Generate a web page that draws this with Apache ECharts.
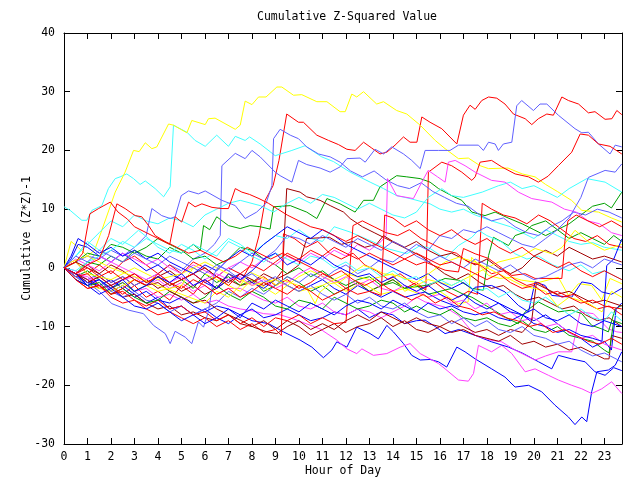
<!DOCTYPE html>
<html><head><meta charset="utf-8">
<script src="https://cdn.jsdelivr.net/npm/echarts@6/dist/echarts.min.js"></script>
<style>html,body{margin:0;padding:0;background:#fff}#c{width:640px;height:480px}</style>
</head><body><div id="c"></div>
<script>
// Tick labels
const xTickLabels = ['0','1','2','3','4','5','6','7','8','9','10','11','12','13','14','15','16','17','18','19','20','21','22','23'];
const yTickLabels = ['-30','-20','-10','0','10','20','30','40'];

// Series: [hour, cumulative value]
const Y1 = [[0,0],[0.3,4.5],[0.6,3.5],[1,2],[1.3,3],[1.61,6.4],[2.18,12.9],[2.6,16.3],[2.96,20],[3.2,19.8],[3.46,21.3],[3.74,20.3],[3.95,20.6],[4.45,24.5],[4.66,24.3],[5.23,23],[5.44,25.1],[6.01,24.4],[6.15,25.4],[6.43,25.5],[7.29,23.6],[7.5,24.3],[7.71,28.4],[8,27.8],[8.28,29.1],[8.6,29.1],[9.06,30.8],[9.27,30.8],[9.77,29.4],[10.12,29.5],[10.76,28.3],[11.19,28.3],[11.75,26.6],[11.97,26.6],[12.25,29.6],[12.46,29.1],[12.75,30],[13.31,27.9],[13.6,28.3],[14.16,26.8],[14.59,26.2],[15.16,24.3],[15.8,21.7],[16.22,20.3],[16.79,18.6],[17.21,18.7],[17.71,17.4],[18.07,16.9],[18.9,17],[19.5,16],[20.05,15.5],[20.5,14.2],[21,13],[21.6,11.5],[22.04,9.8],[22.75,9.5],[23.3,8.5],[23.74,7.8]];
const Y2 = [[0,0],[0.5,-1.5],[1,-3],[2,-4],[3,-2],[4,-4],[5,-3],[5.5,0],[6.5,-2],[7.5,-4],[8,-2],[9,-4.5],[10,-1.5],[10.5,-0.5],[11.3,-2],[12,-4],[12.7,-2.5],[13.5,-4.5],[14.5,-3.5],[15.5,-5],[16,-4],[16.79,-6.1],[17.2,-5.8],[17.35,1.8],[18.07,-1.3],[18.56,-1.8],[19.06,-1.6],[19.48,-2.1],[20.2,-2.5],[21.04,-1.6],[21.47,-4.7],[21.9,-2.7],[22.46,-3],[22.89,-5.5],[23.24,-1.8],[23.74,-2.7]];
const Y3 = [[0,0],[0.5,1],[1,-1],[2,-2],[3,0],[4,-2],[5,-1],[6,1],[7,-1],[8,-3],[9,-2],[10,-4],[11,-3],[12,-1],[13,-2],[14,-1],[14.5,-4],[15.5,-2],[16.5,-3],[17.5,-1],[18.5,1],[19.5,2],[20.05,3.3],[20.76,2.4],[21.2,3.5],[21.75,6.4],[22.3,4.5],[23,3],[23.74,4]];
const Y4 = [[0,0],[0.3,1],[1,2],[1.5,1],[2,0],[3,-1.5],[4,-3],[5,-4.5],[6,-6],[6.5,-4],[7,-5],[7.5,-3],[7.9,-0.7],[8.85,-2.4],[9.06,-3],[9.34,-2.1],[10.33,-3.5],[10.69,-6.1],[10.9,-4.1],[11.33,-2.7],[11.75,-2.4],[12.32,-0.7],[12.75,0.4],[13.17,-0.1],[13.6,-1],[14.16,-1.3],[15,-2.5],[16.22,1],[16.8,1.8],[17.5,1],[18.5,-1],[19.5,-3],[20.5,-4],[21,-6.5],[21.5,-5],[22.3,-6],[22.9,-7.5],[23.3,-4],[23.74,-5]];

const C1 = [[0,10.4],[0.26,9.8],[0.76,8.1],[0.97,8.1],[1.19,9.8],[1.61,10.6],[1.89,13.5],[2.18,15.2],[2.39,15.5],[2.67,16],[2.96,15.2],[3.24,14.2],[3.46,14.8],[3.88,13.5],[4.24,12.1],[4.52,13.8],[4.66,24.3],[4.8,24],[5.23,23.1],[5.58,21.7],[6.01,20.7],[6.5,22.6],[7,20.7],[7.29,22.4],[7.71,21.7],[7.9,22.3],[8.35,21.1],[8.99,19.1],[9.7,20],[10.26,20.8],[10.55,20],[10.97,18.9],[11.47,18.1],[12.18,16.3],[13.03,14.6],[13.6,13.5],[14.16,12.3],[14.73,11.8],[15.58,10.9],[16,10],[16.5,9.5],[17,10],[17.5,9],[18.2,8],[19,7],[19.5,6],[20,5],[20.5,6.5],[21,5.5],[21.5,4.5],[22,4],[22.5,4.3],[23,3.5],[23.74,3]];
const C2 = [[0,0],[0.5,2],[1,4],[1.5,6],[2,8],[2.5,7],[3,9],[3.5,8],[4,7.5],[4.5,8.5],[5,8],[5.5,7],[6,9],[6.5,10],[7,11],[7.5,11.5],[8.35,10.6],[8.92,9.5],[9.5,11],[10,12],[10.5,11],[11,12.5],[11.5,12],[12,11],[12.5,10],[13,11],[13.5,10],[14,9],[14.5,8.5],[15,9.5],[15.5,12],[16.08,13.5],[16.5,12.3],[17,12],[17.8,12.9],[18.5,14],[19,14.6],[19.5,13.5],[20,14],[20.5,13],[21,12],[21.5,13.5],[22.25,15.2],[23.03,14.6],[23.74,12.9]];
const C3 = [[0,0],[0.5,2],[1,4.5],[1.5,3],[2,5],[2.5,4],[3.17,6.4],[3.6,5],[4,3.5],[4.5,2.5],[5,4],[5.5,3],[6,1.5],[6.5,3],[7,5],[7.5,4],[8,2.5],[8.5,4],[9,5.5],[9.5,5],[10,6.5],[10.5,5],[11,4.5],[11.5,7],[12.18,6.1],[13.17,4.4],[13.74,3.3],[14.59,2.4],[15.16,3.8],[15.58,3.3],[16.22,1.6],[16.79,3.8],[17.36,5.2],[17.64,6.4],[18,5.5],[18.63,4.4],[19.2,2.4],[19.7,1.5],[20.2,2],[20.8,0.5],[21.5,-0.5],[22,0.5],[22.5,-1],[23,-0.5],[23.74,-2]];
const C4 = [[0,0],[0.5,-0.5],[1,1],[1.5,2],[2,3],[2.5,4.5],[3,3.5],[3.5,5],[4,4],[4.5,3],[5,2.5],[5.5,4],[6,3],[6.5,2],[7,4.5],[7.5,3.5],[8,2],[8.5,1],[9,2.5],[9.5,1.5],[10,0.5],[10.5,2],[11,1.5],[11.5,0],[12,1],[12.5,-0.5],[13,0],[13.5,-1.5],[14,-0.5],[14.5,-2],[15,-1.5],[15.5,-3],[16,-2],[16.5,-3],[17,-2],[17.5,-4],[18,-3.5],[18.5,-5],[19,-4],[19.5,-5.5],[20,-6],[20.5,-5],[21,-6.5],[21.5,-8],[22,-7],[22.5,-8.5],[23,-9],[23.3,-7.5],[23.74,-9]];

const R1 = [[0,0],[0.5,-1],[1,-2.5],[1.5,-1.5],[2,-3],[2.5,-4.5],[3,-3],[3.5,-5],[4,-4],[4.5,-5.5],[5,-3],[5.5,-4.5],[6,-2],[6.5,-3.5],[7,-1],[7.5,-2.5],[8,1],[8.3,5.5],[8.56,11.5],[8.9,14],[9.15,18.3],[9.48,26.2],[9.98,24.8],[10.19,24.8],[10.76,22.6],[11.26,21.7],[11.68,21],[12.04,20.2],[12.39,20],[12.75,21.4],[13.1,20.4],[13.45,19.4],[13.74,19.7],[14.09,20.9],[14.45,22.3],[14.73,21.4],[15.02,21.4],[15.23,25.7],[15.58,24.8],[16.08,23.7],[16.72,21.1],[17,26],[17.28,27.7],[17.5,27],[17.78,28.5],[18.07,29.1],[18.42,28.9],[18.77,27.9],[19.13,26.2],[19.63,25.4],[19.91,24.4],[20.19,25.4],[20.55,26.2],[20.83,26],[21.19,29.1],[21.47,28.5],[21.9,27.9],[22.32,26.4],[22.6,26.6],[23.03,25.3],[23.32,25.4],[23.53,26.8],[23.74,26.1]];
const R2 = [[0,0],[0.5,1],[1,-1],[1.5,0.5],[2,-1],[2.5,1],[3,2],[3.5,0.5],[4,-1],[4.5,0.5],[5,-1],[5.5,1],[6,0],[6.5,-1.5],[7,0],[7.5,-1],[8,-2.5],[8.5,-1.5],[9,-3],[9.5,-2],[10,-3.5],[10.5,-2.5],[11,-1],[11.5,-2],[12,-3.5],[12.5,-2.5],[13,-4],[13.5,-3],[14,-2],[14.5,-3.5],[15,-2.5],[15.4,-3.8],[15.51,16.3],[16.08,18],[16.5,17.4],[16.93,16.3],[17.36,14.9],[17.5,15.5],[17.71,18],[18.2,18.3],[18.63,17.2],[19.2,16],[19.77,15.5],[20.19,14.6],[20.6,15.6],[21.04,17.4],[21.61,19.7],[21.97,22.8],[22.32,22.6],[22.75,21.1],[23.24,20.7],[23.74,19.4]];
const R3 = [[0,0],[0.5,-2],[1,-3.5],[1.5,-3],[2,-5],[2.5,-6],[3,-5.5],[3.5,-7],[4,-8],[4.5,-7.5],[5,-8.5],[5.5,-9.5],[6,-8.5],[6.5,-10],[7,-9],[7.5,-10.5],[8,-9.5],[8.5,-11],[9,-10.5],[9.25,-11.5],[9.34,5.8],[9.8,5],[10.3,3.5],[10.8,4.5],[11.3,2.5],[11.8,1.5],[12.3,2.5],[12.8,0.5],[13.3,-0.5],[13.8,-2],[14.3,-1],[14.8,-2.5],[15.3,-3.5],[15.8,-2.5],[16.3,-4],[16.8,-5],[17.2,-4],[17.6,-4.5],[17.8,11],[18.2,10],[18.7,9],[19.2,8.5],[19.7,7.5],[20.2,9],[20.7,8],[21.2,6.5],[21.7,5],[22.2,4.5],[22.7,5.5],[23.2,4],[23.74,3.5]];
const R4 = [[0,0],[0.5,-1.5],[1,-1],[1.5,-3],[2,-4.5],[2.5,-4],[3,-5.5],[3.5,-6.5],[4,-5.5],[4.5,-7],[5,-6.5],[5.5,-8],[6,-7.5],[6.5,-9],[7,-8],[7.5,-9.5],[8,-8.5],[8.5,-10],[9,-8.5],[9.5,-9],[10,-8],[10.5,-9.5],[11,-8.5],[11.5,-9.5],[12,-9.3],[12.3,7.2],[12.7,8],[13.2,7],[13.7,6],[14.2,5.5],[14.7,6.5],[15.2,5],[15.7,4],[16.2,3],[16.7,2.5],[17.2,1],[17.7,0.5],[18.2,-1],[18.7,-0.5],[19.2,-2],[19.7,-3],[20.2,-2.5],[20.7,-4],[21.2,-5],[21.7,-4.5],[22.2,-6],[22.7,-7],[23.2,-6.5],[23.74,-8]];
const R5 = [[0,0],[0.5,-1],[1,0],[1.5,-1.5],[2,-0.5],[2.5,-2],[3,-1],[3.5,-2.5],[4,-1.5],[4.5,-3],[5,-2],[5.5,-1],[6,-2.5],[6.5,-1.5],[7,-3],[7.5,-1],[8,0.5],[8.5,-0.5],[9,1],[9.5,2.5],[10,1.5],[10.5,3],[11,2],[11.5,3.5],[12,2.5],[12.5,1.5],[13,2.5],[13.5,1.5],[14,0.5],[14.5,1.5],[15,0.5],[15.37,1],[16.22,-0.4],[16.79,-0.7],[17,3.3],[17.5,2.4],[18.07,1.6],[19.06,-1.3],[19.63,-1],[20.05,-1.8],[21.19,-1.8],[21.33,5],[21.45,8],[21.8,9],[22.3,8],[22.8,7],[23.3,8],[23.74,7]];
const R6 = [[0,0],[0.5,-2],[1,-3.5],[1.5,-3],[2,-4.5],[2.5,-3.5],[3,-2],[3.5,-3],[4,-1],[4.5,-2.5],[5,-3.5],[5.5,-2],[6,-3],[6.5,-4.5],[7,-3.5],[7.5,-5],[8,-4],[8.5,-2.5],[9,-3.5],[9.5,-4.5],[10,-3],[10.5,-4],[11,-5.5],[11.5,-4.5],[12,-3.5],[12.5,-4.5],[13,-4],[13.5,-4.7],[13.65,9],[14,8.5],[14.5,7],[15,8],[15.5,6.5],[16,5.5],[16.5,6.5],[17,5],[17.5,4],[18,5],[18.5,3.5],[19,2.5],[19.5,3.5],[20,2],[20.5,1],[21,0],[21.5,1],[22,-0.5],[22.5,-1.5],[23,-0.5],[23.74,-2]];
const R7 = [[0,0],[0.5,1],[0.8,2.5],[1.1,9.2],[1.47,10.1],[1.97,11.2],[2.3,9.5],[2.7,8.3],[3,7],[3.5,6],[4,5],[4.5,4],[4.73,8.7],[5.01,7.8],[5.3,11.2],[5.58,10.4],[5.87,10.9],[6.3,10.3],[6.72,10.1],[7,10.1],[7.29,13.5],[7.57,12.9],[7.9,12.5],[8.3,11.8],[8.7,11],[9.1,10],[9.5,9],[10,8],[10.5,7],[11,6.5],[11.5,5.5],[12,4.5],[12.5,5.5],[13,4.5],[13.5,3.5],[14,2.5],[14.5,1.5],[15,2.5],[15.5,1.5],[16,0.5],[16.5,1],[17,0],[17.5,-1],[18,-2],[18.5,-1],[19,-2.5],[19.5,-3.5],[20,-3],[20.5,-4.5],[21,-4],[21.5,-5],[22,-6],[22.5,-5.5],[23,-6.5],[23.74,-7]];
const R8 = [[0,0],[0.5,-1],[1,0.5],[1.5,1.5],[1.9,5.5],[2.25,10.9],[2.6,10.1],[3.03,8.9],[3.31,8.7],[3.6,7.2],[3.88,5.5],[4.3,4.5],[4.8,3.5],[5.3,2.5],[5.8,3],[6.3,2],[6.8,1],[7.3,2],[7.8,3.5],[8.3,2.5],[8.8,1.5],[9.3,2.5],[9.8,1.5],[10.3,0.5],[10.8,-0.5],[11.3,-1.5],[11.8,-0.5],[12.3,-2],[12.8,-3],[13.3,-2],[13.8,-3.5],[14.3,-4.5],[14.8,-5.5],[15.3,-4.5],[15.8,-6],[16.3,-5],[16.8,-6.5],[17.3,-7],[17.8,-8],[18.3,-7.5],[18.8,-8.5],[19.3,-9],[19.8,-10],[20.3,-9.5],[20.8,-11],[21.3,-10.5],[21.8,-11.5],[22.3,-12.5],[22.8,-13],[23.3,-12],[23.74,-13]];

const D1 = [[0,0],[0.5,-1],[1,0.5],[1.5,-1],[2,-2.5],[2.5,-1.5],[3,-3],[3.5,-2],[4,-3.5],[4.5,-2.5],[5,-4],[5.5,-3],[6,-4.5],[6.5,-3.5],[7,-2],[7.5,-3],[8,-2.5],[8.5,-1],[9,-2],[9.3,-0.5],[9.48,13.5],[10.05,12.9],[10.33,12.1],[10.9,11.5],[11.33,10.6],[11.9,9.5],[12.18,8.4],[12.7,7],[13.2,6],[13.7,5],[14.2,4],[14.7,3],[15.2,2],[15.7,0.5],[16.2,-1],[16.7,-2],[17.2,-1],[17.7,-2.5],[18.2,-3.5],[18.7,-3],[19.2,-4.5],[19.7,-5.5],[20.2,-5],[20.7,-6],[21.2,-7],[21.7,-6.5],[22.2,-8],[22.7,-9],[23.2,-8.5],[23.74,-10]];
const D2 = [[0,0],[0.5,-1],[1,-2],[1.5,-3.5],[2,-3],[2.5,-5],[3,-4.5],[3.5,-6],[4,-7],[4.5,-6.5],[5,-8],[5.5,-7.5],[6,-8.5],[6.5,-9],[7,-8],[7.5,-9.5],[8,-10],[8.5,-9],[9,-10.5],[9.5,-9],[10,-10],[10.5,-11.5],[11,-10.5],[11.5,-9.5],[12,-11],[12.5,-10],[13,-9.5],[13.5,-8.5],[14,-10],[14.5,-9],[15,-10.5],[15.5,-11],[16,-10],[16.5,-11],[17,-10.5],[17.5,-11.5],[18,-12],[18.5,-12.5],[19,-11.5],[19.5,-13],[20,-12.5],[20.5,-13.5],[21,-13],[21.5,-14],[22,-13.5],[22.5,-14.5],[23,-15.5],[23.2,-15.5],[23.3,-11.5],[23.74,-12]];
const D3 = [[0,0],[0.5,-1],[1,-2.5],[1.5,-1.5],[2,-3],[2.5,-2],[3,-1],[3.5,-2.5],[4,-1.5],[4.5,-0.5],[5,-2],[5.5,-1],[6,0],[6.5,-1.5],[7,-2.5],[7.5,-1],[8,-2],[8.5,-3],[9,-2],[9.5,-1],[10,0.5],[10.33,5],[11.3,5.2],[11.8,4],[12.3,4.5],[12.8,3.5],[13.3,4],[13.6,5.5],[14,4.5],[14.5,3.5],[15,4.5],[15.5,3],[16,2],[16.5,2.5],[17,1.5],[17.5,0.5],[18,1.5],[18.5,0],[19,-1],[19.5,0],[20,2],[20.5,3],[21,2],[21.5,3.5],[22,2.5],[22.5,1.5],[23,2],[23.74,1]];
const D4 = [[0,0],[0.5,1],[1,0],[1.5,-1],[2,0.5],[2.5,-0.5],[3,-2],[3.5,-3],[4,-2.5],[4.5,-4],[5,-5],[5.5,-6],[6,-5.5],[6.5,-7],[7,-8],[7.5,-8.9],[8.07,-10.1],[8.63,-10.9],[9.06,-11.2],[9.5,-10],[10,-9],[10.5,-10.5],[11,-9.5],[11.5,-10.5],[12,-9],[12.5,-8],[13,-9],[13.5,-7.5],[14,-8.5],[14.5,-9.5],[15,-8.5],[15.5,-9.5],[16,-10],[16.5,-9],[17,-10],[17.5,-11],[18,-10.5],[18.5,-11.5],[19,-10.5],[19.5,-11],[19.9,-9.2],[20.1,-2.7],[20.5,-3.5],[21,-4.5],[21.5,-4],[22,-5],[22.5,-6],[23,-5.5],[23.74,-6.5]];

const G1 = [[0,0],[0.5,-1],[1,1],[1.5,0.5],[2,2],[2.5,1],[3,3],[3.5,2],[4,1.5],[4.5,3.5],[5,2.5],[5.5,4],[5.8,3],[5.94,7.2],[6.2,6.5],[6.5,8.7],[7,7.2],[7.5,6.7],[7.92,7.2],[8.35,7],[8.77,6.6],[8.92,10.4],[9.63,10.6],[10.33,9.5],[10.76,8.4],[11.19,11.8],[11.75,10.9],[12.39,9.5],[12.75,11.5],[13.17,11.5],[13.45,13.8],[14.16,15.7],[14.59,15.5],[15.16,15.2],[15.58,14.6],[15.94,13.5],[16.5,12.3],[16.93,11.5],[17.36,9.5],[17.92,8.9],[18.35,9.5],[18.9,8.5],[19.5,7.5],[20,6.5],[20.5,5.5],[21,6.5],[21.5,7.5],[22,9],[22.5,10.5],[23,11],[23.3,10.2],[23.74,12.9]];
const G2 = [[0,0],[0.5,-1.5],[1,-0.5],[1.5,-2],[2,-3.5],[2.5,-2.5],[3,-4],[3.5,-3],[4,-1.5],[4.5,-3],[5,-2],[5.5,-3.5],[6,-1],[6.5,-2.5],[7,-1.5],[7.5,-3],[8,-2],[8.5,-4],[9,-3],[9.5,-1.5],[10,-2.5],[10.5,-4],[11,-3],[11.5,-4.5],[12,-3.5],[12.5,-2.5],[13,-4],[13.5,-3],[14,-2],[14.5,-3.5],[15.37,-3],[15.8,-2.5],[16.22,-1.8],[16.79,-2.1],[17.36,-3.5],[17.85,-3.8],[18.07,2.1],[18.28,5.2],[18.92,3.8],[19.2,5.5],[19.63,6.1],[19.91,7.2],[20.5,8],[21,6.5],[21.5,5],[22,6],[22.5,5],[23,4],[23.4,5.5],[23.74,4.5]];
const G3 = [[0,0],[0.5,1],[1,2.5],[1.5,2],[2,4],[2.5,3.5],[3,2.5],[3.5,3.5],[4,5],[4.5,4],[5,3],[5.5,1.5],[6,2],[6.5,0.5],[7,1.5],[7.5,3.5],[8,3],[8.5,1.5],[9,0.5],[9.5,-1],[10,0],[10.5,-1.5],[11,-0.5],[11.5,-2],[12,-3],[12.5,-2],[13,-1.5],[13.5,-3],[14,-2.5],[14.5,-3.5],[15,-3],[15.5,-4.5],[16,-4],[16.5,-3.5],[17,-4.5],[17.36,-5],[18.2,-7],[18.92,-8.7],[19.34,-9.5],[19.63,-7.5],[20.19,-5.8],[20.48,-6.4],[21.04,-7.5],[21.61,-7.2],[22.04,-7.8],[22.46,-9.8],[22.89,-10.4],[23.17,-10.9],[23.46,-7],[23.74,-6.4]];
const G4 = [[0,0],[0.5,-2],[1,-3],[1.5,-2.5],[2,-4.5],[2.5,-3.5],[3,-5],[3.5,-6],[4,-5.5],[4.5,-4],[5,-5],[5.5,-6],[6,-5],[6.5,-3],[7,-4.5],[7.5,-5.5],[8,-4],[8.5,-5],[9,-6.5],[9.5,-7],[10,-5.5],[10.5,-6],[11,-7],[11.5,-5],[12,-6],[12.5,-7],[13,-6.5],[13.5,-5.5],[14,-6],[14.5,-7.5],[15,-6.5],[15.5,-7.5],[16,-8],[16.5,-7],[17,-8.5],[17.5,-9],[18,-8.5],[18.5,-9.5],[19,-10],[19.5,-9],[20,-10.5],[20.5,-11],[21,-10],[21.5,-11.5],[22,-12],[22.5,-12.5],[23,-14],[23.2,-14.5],[23.4,-9],[23.74,-9.5]];

const M1 = [[0,0],[0.5,-1],[1,-1.5],[1.5,-3],[2,-3.5],[2.5,-2.5],[3,-4],[3.5,-3.5],[4,-5],[4.5,-4.5],[5,-5.5],[5.5,-4.5],[6,-6],[6.5,-5.5],[7,-6.5],[7.5,-7],[8,-7.3],[8.5,-7.8],[9.2,-8],[9.77,-8.7],[10.3,-9.5],[10.9,-10.4],[11.61,-12.3],[12.04,-13.8],[12.46,-14.6],[12.68,-13.8],[13.17,-14.9],[13.74,-14.6],[14.31,-13.5],[14.73,-12.9],[15.16,-14.6],[15.58,-15.5],[15.94,-16.3],[16.22,-17.2],[16.79,-19.1],[17.21,-19.3],[17.43,-18],[17.64,-13.2],[18.2,-14.3],[18.63,-13.2],[19.06,-14.6],[19.63,-17.7],[20.05,-17.2],[20.62,-18.3],[21.04,-19.1],[21.61,-20],[22.04,-20.6],[22.46,-21.4],[22.89,-20.6],[23.31,-19.4],[23.74,-21.4]];
const M2 = [[0,0],[0.5,-0.5],[1,-2],[1.5,-1.5],[2,-3],[2.5,-2],[3,-1.5],[3.5,-3],[4,-2],[4.5,-3.5],[5,-2.5],[5.5,-4],[6,-3],[6.5,-4.5],[7,-3.5],[7.5,-3.5],[8,-4.5],[8.5,-5.5],[9,-6],[9.5,-5],[10,-6.5],[10.5,-7],[11,-6],[11.5,-7.5],[12,-8],[12.5,-7],[13,-7.5],[13.5,-8.5],[14,-7.5],[14.5,-6.5],[15,-5],[15.37,-5.8],[16.22,-6.7],[16.79,-8.1],[17.5,-11.5],[18.14,-12.3],[18.63,-12.6],[19.2,-14],[20.05,-15.7],[20.5,-15],[21.04,-14.3],[21.61,-14.3],[21.97,-7.5],[22.53,-7.8],[23.17,-10.4],[23.53,-10.9],[23.74,-11]];
const M3 = [[0,0],[0.5,1.5],[1,0.5],[1.5,2],[2,1],[2.5,2.5],[3,1.5],[3.5,0.5],[4,1.5],[4.5,0],[5,-1],[5.5,0.5],[6,-0.5],[6.5,-1.5],[7,0],[7.5,1],[8,0],[8.5,1.5],[9,0.5],[9.5,2],[10,1],[10.5,2.5],[11,1.5],[11.5,3],[12,2],[12.5,4],[13,3],[13.5,4.5],[13.71,5.5],[13.77,15.2],[14.16,12.3],[14.87,11.8],[15.23,14.6],[15.5,16.6],[15.9,15.5],[16.22,14.6],[16.36,18],[16.65,18.3],[17.07,17.4],[17.5,16.3],[18.2,14.9],[18.77,14.6],[19.34,12.9],[19.91,11.8],[20.76,11.2],[21.3,10],[21.8,9.5],[22.3,8],[22.8,7.5],[23.3,6],[23.74,5.5]];
const M4 = [[0,0],[0.5,-1],[1,0.5],[1.5,-0.5],[2,1],[2.5,0],[3,-1],[3.5,-2],[4,-1],[4.5,-2.5],[5,-1.5],[5.5,-3],[6,-2],[6.5,-1],[7,-2],[7.5,-1.5],[8,-3],[8.5,-2],[9,-3.5],[9.5,-2.5],[10,-1],[10.5,0],[11,-1.5],[11.5,-2.5],[12,-1.5],[12.5,-3],[13,-2],[13.5,-3.5],[14,-4],[14.5,-3],[15,-4],[15.5,-5],[16,-4.5],[16.5,-6],[17,-5.5],[17.5,-7],[18,-6],[18.5,-8],[19,-7.5],[19.5,-9],[20,-8.5],[20.5,-10],[21,-9.5],[21.5,-11],[22,-12],[22.5,-11.5],[23,-13],[23.74,-14]];

const L1 = [[0,0],[0.5,-1],[1,-2],[1.5,-1],[2,-2.5],[2.5,-1.5],[3,-3],[3.5,-2],[4,-1],[4.5,0.5],[5,-0.5],[5.5,1.5],[6,2.5],[6.4,4],[6.65,5.5],[6.72,17.4],[7.29,19.5],[7.71,18.6],[8,20],[8.35,18.9],[8.99,16.3],[9.2,15.7],[9.7,14.6],[9.98,18.3],[10.33,17.6],[10.9,17],[11.33,16.3],[11.75,17.2],[12.04,18.6],[12.6,18.7],[12.82,18],[13.24,20.2],[13.6,19.4],[13.95,20.6],[14.45,19.4],[14.8,18.3],[15.16,16.9],[15.37,20],[15.94,20],[16.43,20],[16.79,20.9],[17.64,20.9],[17.85,20],[18.07,21.4],[18.35,21.1],[18.49,20],[18.7,21.1],[19.06,21.4],[19.27,27.6],[19.48,28.5],[19.98,26.8],[20.26,27.9],[20.55,27.9],[21.04,26],[21.75,23.7],[22.04,23],[22.32,23.1],[22.75,21.1],[23.24,19.4],[23.46,20.9],[23.74,20.6]];
const L2 = [[0,0],[0.5,1],[1,2],[1.5,1.5],[2,3],[2.5,2],[3,3.5],[3.5,5.5],[3.74,10.1],[4.16,8.9],[4.52,8.4],[4.73,8.7],[4.99,12.3],[5.3,13.1],[5.72,12.6],[6.01,13.1],[6.72,11.5],[7.29,10.6],[7.71,8.4],[8.2,9.5],[8.6,11],[8.85,14],[8.92,22],[9.2,23.6],[9.63,22.6],[9.98,22],[10.33,20.6],[10.83,19.4],[11.33,18.9],[11.75,18],[12.2,16.5],[12.7,15.5],[13.2,16.5],[13.7,15],[14.2,14],[14.7,13.5],[15.2,14.5],[15.7,13],[16.2,12],[16.7,11],[17.2,10.5],[17.7,9],[18.2,8],[18.7,8.5],[19.2,7],[19.7,6],[20.2,5.5],[20.7,7],[21.2,8],[21.7,9.5],[22.2,9],[22.7,10],[23.2,9.5],[23.74,8.5]];
const L3 = [[0,0],[0.5,-1.5],[1,-3],[1.5,-2],[2,-4],[2.5,-5],[3,-4],[3.5,-5.5],[4,-6],[4.5,-7.5],[5,-6.5],[5.5,-8],[6,-7],[6.5,-6],[7,-4],[7.5,-5],[8,-3.5],[8.5,-4.5],[9,-3],[9.5,-1.5],[10,-2.5],[10.5,-1],[11,-2],[11.5,-0.5],[12,0.5],[12.5,-1],[13,0],[13.5,1.5],[14,1],[14.5,2.5],[15,4],[15.5,3],[16,5.5],[16.5,5],[17,6.5],[17.5,6],[18,7],[18.5,6],[19,5],[19.5,4],[20,3.5],[20.5,5],[21,6.5],[21.5,8.5],[22,12],[22.32,15.4],[23.03,16.6],[23.46,16.3],[23.74,17.7]];
const L4 = [[0,0],[0.5,-1.5],[1,-2.5],[1.5,-4],[2.04,-6.1],[2.75,-7.2],[3.38,-7.8],[3.81,-9.8],[4.31,-11.2],[4.52,-12.9],[4.73,-10.8],[5.16,-11.8],[5.44,-12.9],[5.72,-9.2],[5.94,-10.1],[6.15,-7.4],[6.4,-1],[6.6,0.4],[7,-0.5],[7.5,-2],[8,-1],[8.5,-2.5],[9,-1.5],[9.5,-3],[10,-4],[10.5,-3],[11,-4.5],[11.5,-5.5],[12,-4.5],[12.5,-6],[13,-5],[13.5,-6.5],[14,-7],[14.5,-6],[15,-7.5],[15.5,-8.5],[16,-8],[16.5,-9.5],[17,-8.5],[17.5,-10],[18,-9],[18.5,-10.5],[19,-11],[19.5,-10],[20,-11.5],[20.5,-12],[21,-13],[21.5,-12.5],[22,-14],[22.5,-15],[23,-14.5],[23.74,-16]];
const L5 = [[0,0],[0.5,2],[1,1],[1.5,3],[2,2],[2.5,1],[3,2.5],[3.5,1.5],[4,0.5],[4.5,2],[5,1],[5.5,0],[6,-1],[6.5,0.5],[7,-0.5],[7.5,1],[8,2.5],[8.5,1.5],[9,3],[9.5,5.5],[10,5],[10.5,4],[11,5.5],[11.5,4.5],[12,3.5],[12.5,5],[13,4],[13.5,3],[14,4.5],[14.5,3.5],[15,2],[15.5,1],[16,2],[16.5,1],[17,0],[17.5,1.5],[18,0.5],[18.5,-0.5],[19,0.5],[19.5,-1],[20,-2],[20.5,-1.5],[21,-0.5],[21.5,0.5],[22,1],[22.5,0],[23,1.5],[23.74,0.5]];

const B1 = [[0,0],[0.5,-1.5],[1,-2.5],[1.5,-2],[2,-4],[2.5,-3],[3,-4.5],[3.5,-6],[4,-5],[4.5,-7],[5,-6.5],[5.5,-8],[6,-7],[6.5,-8.5],[7,-9.5],[7.5,-8],[8,-9],[8.7,-9.5],[9.34,-10.9],[10.05,-12.3],[10.55,-13.5],[11.04,-15.3],[11.4,-14],[11.61,-12.6],[12.04,-13.5],[12.46,-10.1],[13.03,-11.2],[13.38,-12.1],[13.74,-9.8],[14.02,-10.9],[14.45,-12.9],[14.8,-14.9],[15.16,-15.7],[15.58,-15.6],[15.94,-16],[16.29,-16.9],[16.72,-13.5],[17.07,-14.3],[17.5,-15.5],[18.2,-17.2],[18.77,-18.6],[19.2,-20.3],[19.77,-20],[20.33,-21.1],[20.9,-23.4],[21.47,-25.4],[21.75,-26.7],[22.04,-25.4],[22.25,-26.2],[22.46,-21.1],[22.68,-17.7],[23.17,-17.4],[23.46,-16.6],[23.74,-14.3]];
const B2 = [[0,0],[0.5,-1],[1,-2.5],[1.5,-3],[2,-2],[2.5,-3.5],[3,-5],[3.5,-4],[4,-5.5],[4.5,-6],[5,-5],[5.5,-6.5],[6,-7.5],[6.5,-6.5],[7,-7],[7.5,-8],[8,-7],[8.5,-8.5],[9,-8],[9.5,-7],[10,-8],[10.5,-9],[11,-8.5],[11.5,-7.5],[12,-8],[12.5,-7],[13,-8.5],[13.5,-7.5],[14,-8],[14.5,-9.5],[15,-9],[15.37,-8.9],[15.8,-10],[16.22,-11.2],[16.8,-10.5],[17.5,-11.5],[18.2,-12.6],[18.92,-13.5],[19.5,-14.5],[20.2,-16],[20.76,-17.2],[21.04,-14.9],[21.61,-15.5],[22.18,-16],[22.6,-17.7],[23.03,-18.3],[23.4,-17],[23.74,-17.5]];
const B3 = [[0,0],[0.3,1.5],[0.6,4],[1,3.5],[1.5,2],[2,1],[2.5,2.5],[3,1],[3.5,-0.5],[4,0.5],[4.5,-1],[5,-2],[5.5,-1],[6,-2.5],[6.5,-3.5],[7,-2],[7.5,-1],[8,-2.5],[8.5,-3.5],[9,-2],[9.5,-3],[10,-4],[10.5,-3],[11,-2],[11.5,-3.5],[12,-4.5],[12.5,-3],[13,-4],[13.5,-5],[14,-4],[14.5,-5],[15.37,-4.1],[16,-5.5],[16.79,-6.7],[17.5,-3.3],[18.2,-3],[18.77,-4.1],[19.34,-6.4],[19.77,-7.5],[20.05,-2.4],[20.48,-3],[20.76,-4.7],[21.61,-5],[22.04,-2.4],[22.46,-2.7],[22.89,-4.1],[23.3,-4.5],[23.74,-3.5]];
const B4 = [[0,0],[0.3,2],[0.6,5],[1,4],[1.5,2.5],[2,3.5],[2.5,2],[3,3],[3.5,1.5],[4,2.5],[4.5,1],[5,0],[5.5,-1],[6,0.5],[6.5,-0.5],[7,1.5],[7.5,3],[8,2],[8.5,4],[9,5.5],[9.5,7],[10,6],[10.5,5],[11,6.5],[11.5,5.5],[12,4],[12.5,3],[13,2],[13.5,1],[14,0],[14.5,-1],[15,-2],[15.5,-1],[16,-2.5],[16.5,-3.5],[17,-2.5],[17.5,-4],[18,-5],[18.5,-6],[19,-7],[19.5,-8],[20,-9],[20.5,-8],[21,-9.5],[21.5,-11],[22,-12],[22.5,-13.5],[23,-12.5],[23.3,-14],[23.5,-7],[23.74,-6]];
const B5 = [[0,0],[0.5,-2],[1,-3],[1.5,-4.5],[2,-3.5],[2.5,-5],[3,-6.5],[3.5,-7],[4,-6],[4.5,-7.5],[5,-9],[5.5,-8],[6,-9.5],[6.5,-8.5],[7,-7],[7.5,-8.5],[8,-6],[8.5,-7],[9,-5.5],[9.5,-6.5],[10,-7.5],[10.5,-6],[11,-7],[11.5,-8],[12,-6.5],[12.5,-5.5],[13,-6],[13.5,-7],[14,-5.5],[14.5,-6.5],[15,-7.5],[15.5,-6],[16,-7],[16.5,-6.5],[17,-7.5],[17.5,-8],[18,-7.5],[18.5,-8.5],[19,-9],[19.5,-8],[20,-9.5],[20.5,-10],[21,-11],[21.5,-10.5],[22,-11.5],[22.5,-12],[22.9,-12.5],[23.1,0.4],[23.4,1.5],[23.74,4.9]];
const B6 = [[0,0],[0.5,-1],[1,-3],[1.5,-2],[2,-3.5],[2.5,-2],[3,-4],[3.5,-3],[4,-1.5],[4.5,-2.5],[5,-1],[5.5,-3],[6,-2],[6.5,-3.5],[7,-1],[7.5,-2],[8,-0.5],[8.5,1.5],[9,2.5],[9.5,0.5],[10,1.5],[10.5,0.5],[11,2],[11.5,0.5],[12,-0.5],[12.5,-1.5],[13,-1],[13.5,-2.5],[14,-1.5],[14.5,-3],[15,-4],[15.5,-3],[16,-4.5],[16.5,-5.5],[17,-4.5],[17.5,-6],[18,-7],[18.5,-6],[19,-7.5],[19.5,-8],[20,-7],[20.5,-8.5],[21,-9],[21.5,-8],[22,-9.5],[22.5,-10],[23,-9],[23.74,-10]];

const RED = '#ff0000', GREEN = '#00a000', BLUE = '#0000ff', MAGENTA = '#ff40ff',
      CYAN = '#40ffff', DARKRED = '#a00000', YELLOW = '#ffff00', LIGHTBLUE = '#6060ff';

const lines = [
  [R1, RED], [G1, GREEN], [B1, BLUE], [M1, MAGENTA], [C1, CYAN], [D1, DARKRED], [Y1, YELLOW], [L1, LIGHTBLUE],
  [R2, RED], [G2, GREEN], [B2, BLUE], [M2, MAGENTA], [C2, CYAN], [D2, DARKRED], [Y2, YELLOW], [L2, LIGHTBLUE],
  [R3, RED], [G3, GREEN], [B3, BLUE], [M3, MAGENTA], [C3, CYAN], [D3, DARKRED], [Y3, YELLOW], [L3, LIGHTBLUE],
  [R4, RED], [G4, GREEN], [B4, BLUE], [M4, MAGENTA], [C4, CYAN], [D4, DARKRED], [Y4, YELLOW], [L4, LIGHTBLUE],
  [R5, RED], [B5, BLUE], [L5, LIGHTBLUE], [R6, RED], [B6, BLUE], [R7, RED], [R8, RED]
];

const FONT = 'DejaVu Sans Mono';
const chart = echarts.init(document.getElementById('c'), null, {renderer: 'canvas'});

const axisCommon = {
  axisLine: {show: true, onZero: false, lineStyle: {color: '#000', width: 1}},
  axisTick: {show: true, inside: true, length: 6, lineStyle: {color: '#000', width: 1}},
  splitLine: {show: false}
};

chart.setOption({
  animation: false,
  backgroundColor: '#fff',
  title: {
    text: 'Cumulative Z-Squared Value', left: 342, top: 6, textAlign: 'center',
    textStyle: {fontFamily: FONT, fontSize: 11.5, fontWeight: 'normal', color: '#000'}
  },
  grid: {left: 64, right: 18, top: 33, bottom: 36, containLabel: false, outerBoundsMode: 'none'},
  xAxis: [
    Object.assign({
      type: 'value', position: 'bottom', min: 0, max: 23.75, interval: 1,
      name: 'Hour of Day', nameLocation: 'middle', nameGap: 21, nameMoveOverlap: false,
      nameTextStyle: {fontFamily: FONT, fontSize: 11.5, color: '#000'},
      axisLabel: {margin: 7, fontFamily: FONT, fontSize: 11.5, color: '#000',
        formatter: v => { const i = xTickLabels.indexOf(String(v)); return i >= 0 ? xTickLabels[i] : ''; }}
    }, axisCommon),
    Object.assign({
      type: 'value', position: 'top', min: 0, max: 23.75, interval: 1,
      axisLabel: {show: false}
    }, axisCommon)
  ],
  yAxis: [
    Object.assign({
      type: 'value', position: 'left', min: -30, max: 40, interval: 10,
      name: 'Cumulative (Z*Z)-1', nameLocation: 'middle', nameGap: 31, nameRotate: 90, nameMoveOverlap: false,
      nameTextStyle: {fontFamily: FONT, fontSize: 11.5, color: '#000'},
      axisLabel: {margin: 9, fontFamily: FONT, fontSize: 11.5, color: '#000',
        formatter: v => { const i = yTickLabels.indexOf(String(v)); return i >= 0 ? yTickLabels[i] : ''; }}
    }, axisCommon),
    Object.assign({
      type: 'value', position: 'right', min: -30, max: 40, interval: 10,
      axisLabel: {show: false}
    }, axisCommon)
  ],
  series: lines.map(([data, color]) => ({
    type: 'line', data: data, xAxisIndex: 0, yAxisIndex: 0,
    showSymbol: false, symbol: 'none', silent: true,
    lineStyle: {color: color, width: 1},
    itemStyle: {color: color}
  }))
});
</script>
</body></html>
